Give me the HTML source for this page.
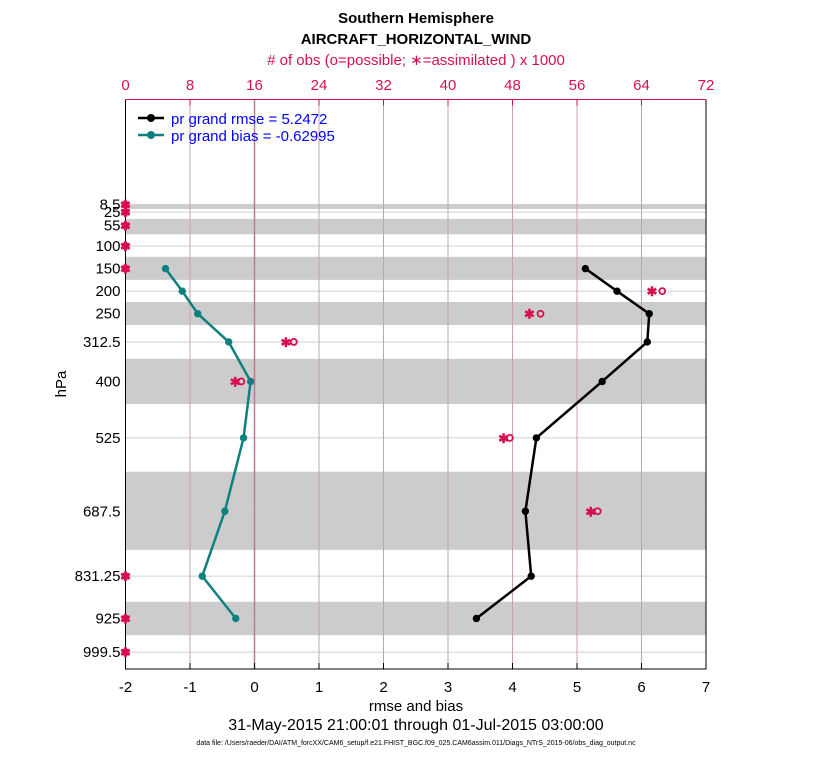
<!DOCTYPE html>
<html><head><meta charset="utf-8"><style>
body{margin:0;background:#fff;}
svg text{font-family:"Liberation Sans",Arial,sans-serif;}
</style></head><body>
<svg id="chart" width="830" height="760" xmlns="http://www.w3.org/2000/svg">
<text x="416" y="23" font-size="15" font-weight="bold" text-anchor="middle">Southern Hemisphere</text>
<text x="416" y="44" font-size="15" font-weight="bold" text-anchor="middle">AIRCRAFT_HORIZONTAL_WIND</text>
<text x="416" y="65" font-size="15" fill="#d6104e" text-anchor="middle"># of obs (o=possible; ∗=assimilated ) x 1000</text>
<text x="416" y="711" font-size="15" text-anchor="middle">rmse and bias</text>
<text x="416" y="730" font-size="16" text-anchor="middle">31-May-2015 21:00:01 through 01-Jul-2015 03:00:00</text>
<text x="416" y="745" font-size="7" text-anchor="middle">data file: /Users/raeder/DAI/ATM_forcXX/CAM6_setup/f.e21.FHIST_BGC.f09_025.CAM6assim.011/Diags_NTrS_2015-06/obs_diag_output.nc</text>
<text x="66" y="384" font-size="15" text-anchor="middle" transform="rotate(-90 66 384)">hPa</text>
<g id="plot"></g>
</svg>
<script>
const levels=[8.5,25,55,100,150,200,250,312.5,400,525,687.5,831.25,925,999.5];
const levelLabels=["8.5","25","55","100","150","200","250","312.5","400","525","687.5","831.25","925","999.5"];
const bandStart=[7,40,124,224,350,600,888];
const bandEnd=[18,74,175,275,450,773,962];
const rmseLevels=[150,200,250,312.5,400,525,687.5,831.25,925];
const rmseVals=[5.13,5.62,6.12,6.09,5.39,4.37,4.20,4.29,3.44];
const biasVals=[-1.38,-1.12,-0.88,-0.40,-0.06,-0.17,-0.46,-0.81,-0.29];
const obsLevels=[8.5,25,55,100,150,200,250,312.5,400,525,687.5,831.25,925,999.5];
const obsPossible=[0,0,0,0,0,66.2,51.1,20.5,14.0,47.3,58.2,0,0,0];
const obsAssim=[0,0,0,0,0,65.3,50.1,19.9,13.6,46.9,57.7,0,0,0];
const xTicks=[-2,-1,0,1,2,3,4,5,6,7];
const topTicks=[0,8,16,24,32,40,48,56,64,72];

const L=125.5,R=706,T=99.5,B=669;
const X=v=>L+(v+2)/9*(R-L);
const XT=v=>L+v/72*(R-L);
const Y=p=>246+(p-100)*0.4515;
const NS="http://www.w3.org/2000/svg";
const g=document.getElementById('plot');
function mk(t,a,parent){const e=document.createElementNS(NS,t);for(const k in a)e.setAttribute(k,a[k]);(parent||g).appendChild(e);return e;}

bandStart.forEach((s,i)=>{const e=mk('rect',{x:L,y:Y(s),width:R-L,height:Y(bandEnd[i])-Y(s),fill:'#cccccc'});

});
levels.forEach((p,i)=>{const e=mk('line',{x1:L,x2:R,y1:Y(p),y2:Y(p),stroke:'#d0d0d0','stroke-width':1});


const t=mk('text',{x:L-5,y:Y(p)+5,'font-size':15,'text-anchor':'end'});t.textContent=levelLabels[i];

});
topTicks.forEach(v=>{const e=mk('line',{x1:XT(v),x2:XT(v),y1:T,y2:B,stroke:'#c8a0b0','stroke-width':1});


mk('line',{x1:XT(v),x2:XT(v),y1:T,y2:T+6,stroke:'#d6104e'});
const t=mk('text',{x:XT(v),y:90,'font-size':15,fill:'#d6104e','text-anchor':'middle'});t.textContent=v;

});
mk('line',{x1:X(0),x2:X(0),y1:T,y2:B,stroke:'#b08090','stroke-width':1.5});
xTicks.forEach(v=>{mk('line',{x1:X(v),x2:X(v),y1:B,y2:B-6,stroke:'#000'});
const t=mk('text',{x:X(v),y:B+23,'font-size':15,'text-anchor':'middle'});t.textContent=v;

});
const ax=mk('path',{d:`M${L},${T}V${B}H${R}V${T}`,fill:'none',stroke:'#000','stroke-width':1});


mk('line',{x1:L,x2:R,y1:T,y2:T,stroke:'#d6104e','stroke-width':1});

function series(vals,color,name){
const pts=vals.map((v,i)=>X(v)+','+Y(rmseLevels[i])).join(' ');
const pl=mk('polyline',{points:pts,fill:'none',stroke:color,'stroke-width':2.5});


vals.forEach((v,i)=>{const c=mk('circle',{cx:X(v),cy:Y(rmseLevels[i]),r:3.7,fill:color});

});}
series(rmseVals,'#000','rmse');
series(biasVals,'#0e8080','bias');

obsLevels.forEach((p,i)=>{
const xa=XT(obsAssim[i]),xp=XT(obsPossible[i]),y=Y(p);
const o=mk('circle',{cx:xp+(obsPossible[i]>0?3:0),cy:y,r:3,fill:'none',stroke:'#d6104e','stroke-width':1.8});


const s=mk('text',{x:xa,y:y+5,'font-size':13,'font-weight':'bold',fill:'#d6104e','text-anchor':'middle'});s.textContent='✱';

});

const lg=mk('g',{});


mk('line',{x1:138,x2:164,y1:118,y2:118,stroke:'#000','stroke-width':2.5},lg);
mk('circle',{cx:151,cy:118,r:4,fill:'#000'},lg);
const t1=mk('text',{x:171,y:124,'font-size':15,fill:'#0000ff'},lg);t1.textContent='pr grand rmse = 5.2472';


mk('line',{x1:138,x2:164,y1:135,y2:135,stroke:'#0e8080','stroke-width':2.5},lg);
mk('circle',{cx:151,cy:135,r:4,fill:'#0e8080'},lg);
const t2=mk('text',{x:171,y:141,'font-size':15,fill:'#0000ff'},lg);t2.textContent='pr grand bias = -0.62995';


</script>
</body></html>
